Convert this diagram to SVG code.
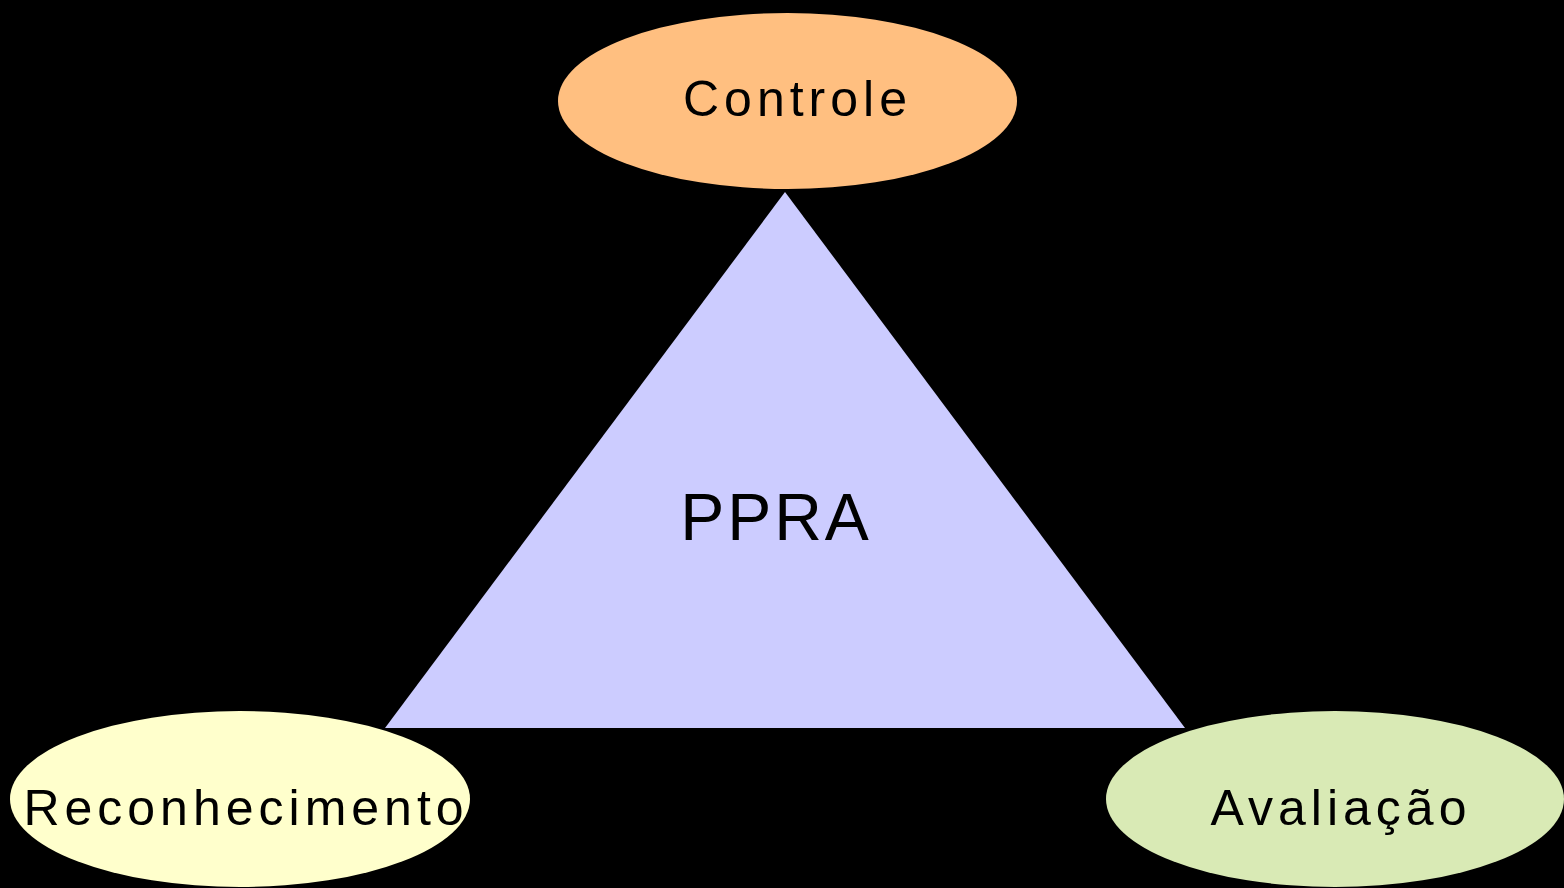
<svg xmlns="http://www.w3.org/2000/svg" width="1564" height="888" viewBox="0 0 1564 888">
<style>
.lbl{font-family:"Liberation Sans",Arial,sans-serif;font-size:50px;fill:#000;letter-spacing:5px;text-anchor:middle}
</style>
<rect x="0" y="0" width="1564" height="888" fill="#000"/>
<g id="connectors"></g>
<g id="ppra">
<polygon points="785,192 1185,728 385,728" fill="#ccccff"/>
<text class="lbl" x="776" y="540" style="font-size:66px;letter-spacing:3px">PPRA</text>
</g>
<g id="controle">
<ellipse cx="787.5" cy="101" rx="229.5" ry="88" fill="#ffbf80"/>
<text class="lbl" x="797.5" y="116">Controle</text>
</g>
<g id="reconhecimento">
<ellipse cx="240" cy="799" rx="230" ry="88" fill="#ffffcc"/>
<text class="lbl" x="246" y="825">Reconhecimento</text>
</g>
<g id="avaliacao">
<ellipse cx="1335" cy="799" rx="229" ry="88" fill="#d9eab5"/>
<text class="lbl" x="1341" y="825">Avaliação</text>
</g>
</svg>
